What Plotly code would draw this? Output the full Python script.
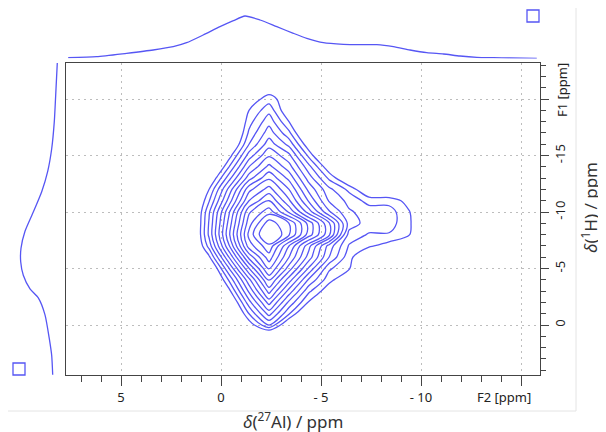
import plotly.graph_objects as go

# the page body keeps its default 8 px margin, so the figure is laid out
# in window pixels shifted by OFF
W, H = 598, 424
OFF = 8
BLUE = "#5656f4"
FRAME = "#444444"

# 2D map grid (ppm). F2 = 27Al (horizontal), F1 = 1H (vertical)
f2_ppm = [1.6, 0.6, -0.4, -1.4, -2.4, -3.4, -4.4, -5.4, -6.4, -7.4, -8.4, -9.4, -10.4]
f1_ppm = [-22, -21, -20, -19, -18, -17, -16, -15, -14, -13, -12, -11, -10,
          -9, -8, -7, -6, -5, -4, -3, -2, -1, 0, 1, 2]

# intensity, in units of contour level (1 = lowest drawn contour)
intensity = [
    [-2, -2, -2, -2, -2, -2, -2, -2, -2, -2, -2, -2, -2],
    [-2, -2, -2, -1, 0.2, -1, -2, -2, -2, -2, -2, -2, -2],
    [-2, -2, -2, 0.3, 1.5, 0.2, -2, -2, -2, -2, -2, -2, -2],
    [-2, -2, -2, 1.0, 2.67, -0.07, -2, -2, -2, -2, -2, -2, -2],
    [-2, -2, -2, 1.6, 3.64, 1.0, -2, -2, -2, -2, -2, -2, -2],
    [-2, -2, -1.8, 2.2, 4.55, 2.25, -1.32, -2, -2, -2, -2, -2, -2],
    [-2, -2, -1.0, 3.0, 5.55, 3.68, 0.11, -2, -2, -2, -2, -2, -2],
    [-2, -2, 0.48, 4.48, 6.86, 5.29, 1.71, -1.86, -2, -2, -2, -2, -2],
    [-2, -2, 2.0, 6.0, 8.3, 6.43, 3.33, 0.17, -1, -2, -2, -2, -2],
    [-2, -0.4, 3.6, 7.6, 9.83, 7.71, 4.5, 1.8, -0.5, -2, -2, -2, -2],
    [-2, 1.0, 5.35, 9.7, 11.43, 9.0, 5.67, 3.29, 1.75, -0.3, -0.5, -2, -2],
    [-2, 1.9, 6.45, 11.0, 13.0, 10.17, 6.83, 3.89, 2.71, 1.6, 1.6, 0.6, -0.5],
    [-2, 2.85, 7.85, 12.85, 14.6, 11.83, 8.5, 5.17, 3.13, 2.6, 2.5, 1.08, -0.5],
    [-2, 3.1, 8.4, 13.6, 16.6, 15.0, 11.6, 8.17, 3.6, 2.5, 2.5, 1.17, -0.5],
    [-2, 3.2, 8.8, 14.3, 17.6, 15.1, 11.5, 8.3, 2.6, 1.9, 1.9, 1.08, -0.5],
    [-2, 2.4, 7.9, 13.5, 15.7, 12.0, 8.3, 4.6, 1.9, 1.17, 0.5, -0.5, -1],
    [-2, 0.74, 6.0, 11.3, 14.55, 11.0, 7.5, 4.0, 1.36, -0.5, -1.5, -2, -2],
    [-2, -1.05, 3.95, 8.95, 13.17, 9.5, 5.8, 2.18, 1.1, -0.5, -2, -2, -2],
    [-2, -2, 2.14, 6.7, 11.2, 7.5, 3.8, 1.4, -0.2, -2, -2, -2, -2],
    [-2, -2, 0.64, 5.2, 9.4, 5.6, 2.2, 0.2, -2, -2, -2, -2, -2],
    [-2, -2, -0.9, 3.6, 7.4, 3.74, 0.85, -1.5, -2, -2, -2, -2, -2],
    [-2, -2, -2, 2.0, 5.4, 2.1, -1.2, -2, -2, -2, -2, -2, -2],
    [-2, -2, -2, 0.27, 3.0, -0.5, -2, -2, -2, -2, -2, -2, -2],
    [-2, -2, -2, -2, -1.5, -2, -2, -2, -2, -2, -2, -2, -2],
    [-2, -2, -2, -2, -2, -2, -2, -2, -2, -2, -2, -2, -2],
]

# F2 projection (top)
top_ppm = [7.64, 6.22, 4.72, 3.39, 2.39, 1.72, 0.89, 0.05, -0.62, -1.2, -1.95, -2.79,
           -3.62, -4.29, -5.12, -6.12, -6.95, -7.79, -8.62, -9.45, -10.29, -11.12,
           -11.95, -12.79, -13.62, -14.45, -15.79]
top_int = [0.8, 1.8, 5.2, 8.5, 11.8, 15.8, 23.5, 31.8, 37.8, 42.5, 38.5, 31.8,
           25.2, 20.2, 15.8, 14.2, 13.8, 13.8, 11.8, 8.5, 5.8, 4.5,
           2.5, 1.2, 0.8, 0.5, 0.2]

# F1 projection (left)
left_ppm = [-23.2, -20.9, -18.0, -15.6, -13.6, -11.8, -10.0, -8.3, -6.8, -5.6,
            -4.4, -3.2, -2.4, -0.9, 1.2, 2.7, 4.4]
left_int = [0.7, 2.0, 3.7, 6.3, 10.3, 16.3, 24.7, 33.0, 37.0, 37.3,
            34.7, 28.0, 19.7, 13.0, 8.7, 6.3, 5.3]

x_ticks = [5, 0, -5, -10, -15]
x_ticktext = ["5", "0", "- 5", "- 10", ""]
y_ticks = [-20, -15, -10, -5, 0]
y_ticktext = ["", "-15", "-10", "-5", "0"]


def px(x):
    return (x - OFF) / W


def py(y):
    return 1 - (y - OFF) / H


fig = go.Figure()

fig.add_trace(go.Contour(
    x=f2_ppm, y=f1_ppm, z=intensity,
    contours=dict(start=1, end=16, size=1, coloring="lines"),
    colorscale=[[0, BLUE], [1, BLUE]],
    line=dict(width=1.3, smoothing=0.9),
    showscale=False, hoverinfo="skip",
    xaxis="x", yaxis="y",
))
fig.add_trace(go.Scatter(
    x=top_ppm, y=top_int, mode="lines",
    line=dict(color=BLUE, width=1.3, shape="spline", smoothing=0.6),
    xaxis="x2", yaxis="y2",
))
fig.add_trace(go.Scatter(
    x=left_int, y=left_ppm, mode="lines",
    line=dict(color=BLUE, width=1.3, shape="spline", smoothing=0.6),
    xaxis="x3", yaxis="y3",
))

x_dom = [px(66), px(540)]
y_dom = [py(375), py(63)]
x_rng = [7.75, -15.95]
y_rng = [4.42, -23.19]

fig.update_layout(
    width=W, height=H,
    margin=dict(l=0, r=0, t=0, b=0),
    paper_bgcolor="white", plot_bgcolor="white",
    showlegend=False,
    font=dict(family="Noto Sans", size=13, color="#222222"),
    xaxis=dict(
        domain=x_dom, range=x_rng, anchor="y",
        tickmode="array", tickvals=x_ticks, ticktext=x_ticktext,
        ticks="outside", ticklen=10, tickcolor=FRAME, tickwidth=1,
        showline=True, linecolor=FRAME, linewidth=1, mirror=True,
        showgrid=True, gridcolor="#bdbdbd", griddash="2px,4px", gridwidth=1,
        zeroline=False, automargin=False,
        minor=dict(tickmode="linear", tick0=0, dtick=1, ticks="outside",
                   ticklen=6, tickcolor=FRAME, showgrid=False),
    ),
    yaxis=dict(
        domain=y_dom, range=y_rng, anchor="x", side="right",
        tickmode="array", tickvals=y_ticks, ticktext=y_ticktext, tickangle=-90,
        ticks="outside", ticklen=8, tickcolor=FRAME, tickwidth=1,
        showline=True, linecolor=FRAME, linewidth=1, mirror=True,
        showgrid=True, gridcolor="#bdbdbd", griddash="2px,4px", gridwidth=1,
        zeroline=False, automargin=False,
        minor=dict(tickmode="linear", tick0=0, dtick=1, ticks="outside",
                   ticklen=5, tickcolor=FRAME, showgrid=False),
    ),
    xaxis2=dict(domain=x_dom, range=x_rng, anchor="y2", visible=False),
    yaxis2=dict(domain=[py(58.5), py(8)], range=[0, 50.5], anchor="x2", visible=False),
    xaxis3=dict(domain=[px(8), px(58)], range=[50, 0], anchor="y3", visible=False),
    yaxis3=dict(domain=y_dom, range=y_rng, anchor="x3", visible=False),
)

# light panel border and the two small squares
fig.add_shape(type="line", xref="paper", yref="paper",
              x0=px(576), x1=px(576), y0=py(0), y1=py(411),
              line=dict(color="#e4e4e4", width=1))
fig.add_shape(type="line", xref="paper", yref="paper",
              x0=px(0), x1=px(576), y0=py(411), y1=py(411),
              line=dict(color="#e4e4e4", width=1))
fig.add_shape(type="rect", xref="paper", yref="paper",
              x0=px(527), x1=px(539), y0=py(22), y1=py(10),
              line=dict(color=BLUE, width=1.3))
fig.add_shape(type="rect", xref="paper", yref="paper",
              x0=px(13), x1=px(25), y0=py(375), y1=py(363),
              line=dict(color=BLUE, width=1.3))

fig.add_annotation(text="F2 [ppm]", xref="paper", yref="paper",
                   x=px(504), y=py(397), showarrow=False,
                   xanchor="center", yanchor="middle",
                   font=dict(size=13, color="#222222"))
fig.add_annotation(text="F1 [ppm]", xref="paper", yref="paper",
                   x=px(562), y=py(90), showarrow=False, textangle=-90,
                   xanchor="center", yanchor="middle",
                   font=dict(size=13, color="#222222"))
fig.add_annotation(text="<i>δ</i>(<sup>27</sup>Al) / ppm", xref="paper", yref="paper",
                   x=px(293), y=py(420), showarrow=False,
                   xanchor="center", yanchor="middle",
                   font=dict(size=17, color="#333333"))
fig.add_annotation(text="<i>δ</i>(<sup>1</sup>H) / ppm", xref="paper", yref="paper",
                   x=px(589), y=py(208), showarrow=False, textangle=-90,
                   xanchor="center", yanchor="middle",
                   font=dict(size=17, color="#333333"))

fig.write_html("out.html")
